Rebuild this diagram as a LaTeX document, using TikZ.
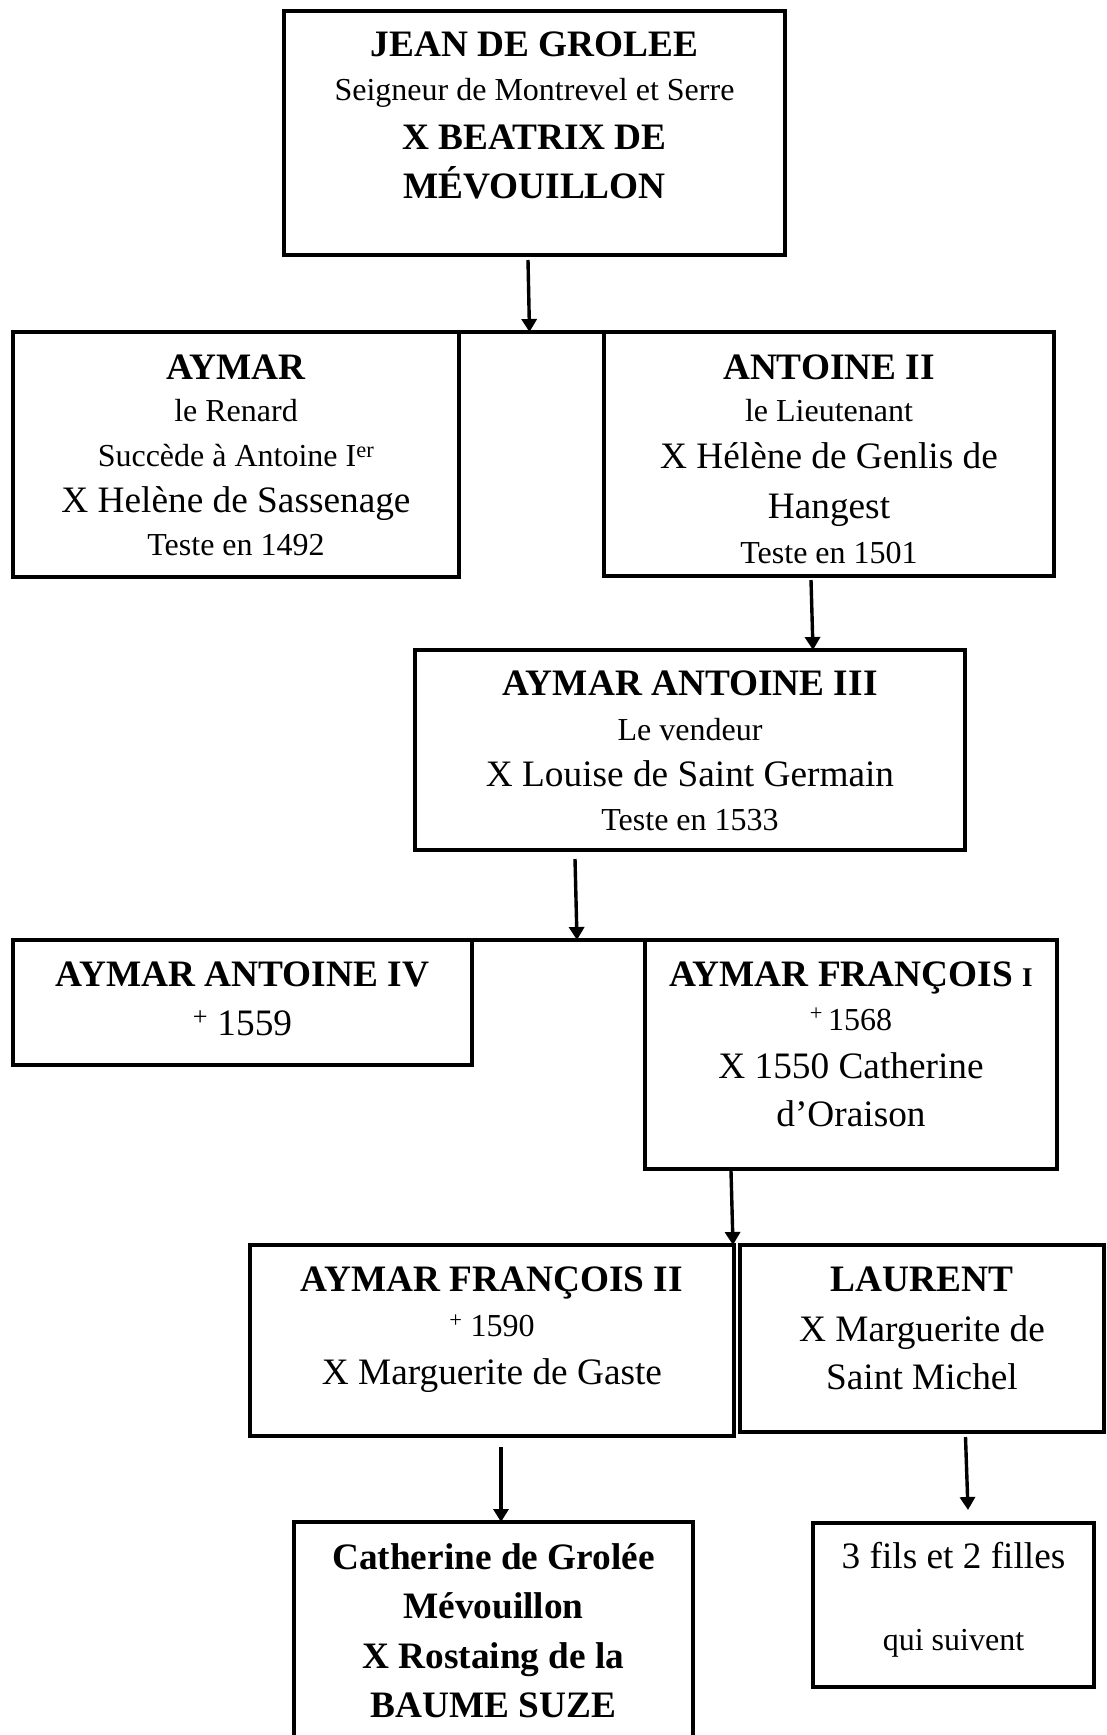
\documentclass[tikz,border=0pt]{standalone}
\usepackage{fontspec}
\setmainfont{Liberation Serif}
\usetikzlibrary{arrows.meta}

\tikzset{
  fambox/.style={draw, rectangle, line width=3.4pt, inner sep=0pt, outer sep=0pt},
  lien/.style={line width=3.4pt},
  fleche/.style={line width=3.4pt, -{Triangle[length=13pt,width=15pt]}},
  ln/.style={anchor=base, inner sep=0pt},
  nom/.style={ln, font=\fontsize{37.3}{44}\selectfont\bfseries},
  gros/.style={ln, font=\fontsize{37.3}{44}\selectfont},
  petit/.style={ln, font=\fontsize{32}{38}\selectfont},
}

\begin{document}
\begin{tikzpicture}[x=1pt, y=-1pt]
\useasboundingbox (0,0) rectangle (1107,1735);
\clip (0,0) rectangle (1107,1735);

% family boxes
\node[fambox, minimum width=501pt, minimum height=244pt] (jean)    at (534.5,133) {};
\node[fambox, minimum width=446pt, minimum height=245pt] (aymar)   at (236,454.5) {};
\node[fambox, minimum width=450pt, minimum height=244pt] (antoine) at (829,454) {};
\node[fambox, minimum width=550pt, minimum height=200pt] (aa3)     at (690,750) {};
\node[fambox, minimum width=459pt, minimum height=125pt] (aa4)     at (242.5,1002.5) {};
\node[fambox, minimum width=412pt, minimum height=229pt] (af1)     at (851,1054.5) {};
\node[fambox, minimum width=484pt, minimum height=191pt] (af2)     at (492,1340.5) {};
\node[fambox, minimum width=364pt, minimum height=187pt] (laurent) at (922,1338.5) {};
\node[fambox, minimum width=399pt, minimum height=238pt] (cath)    at (493.5,1641) {};
\node[fambox, minimum width=281pt, minimum height=164pt] (fils)    at (953.5,1605) {};

% texts
\node[nom]   (jean-1) at (534.5,56.7) {JEAN DE GROLEE};
\node[petit] (jean-2) at (534.5,100)  {Seigneur de Montrevel et Serre};
\node[nom]   (jean-3) at (534.5,149)  {X BEATRIX DE};
\node[nom]   (jean-4) at (534.5,198)  {MÉVOUILLON};

\node[nom]   (aymar-1) at (236,379)   {AYMAR};
\node[petit] (aymar-2) at (236,421.7) {le Renard};
\node[petit] (aymar-3) at (236,466.7) {Succède à Antoine I\textsuperscript{er}};
\node[gros]  (aymar-4) at (236,512.7) {X Helène de Sassenage};
\node[petit] (aymar-5) at (236,555)   {Teste en 1492};

\node[nom]   (antoine-1) at (829,379)   {ANTOINE II};
\node[petit] (antoine-2) at (829,421.7) {le Lieutenant};
\node[gros]  (antoine-3) at (829,468)   {X Hélène de Genlis de};
\node[gros]  (antoine-4) at (829,518)   {Hangest};
\node[petit] (antoine-5) at (829,563.5) {Teste en 1501};

\node[nom]   (aa3-1) at (690,695.7) {AYMAR ANTOINE III};
\node[petit] (aa3-2) at (690,740)   {Le vendeur};
\node[gros]  (aa3-3) at (690,786.7) {X Louise de Saint Germain};
\node[petit] (aa3-4) at (690,830)   {Teste en 1533};

\node[nom]   (aa4-1) at (242.5,986.7) {AYMAR ANTOINE IV};
\node[gros]  (aa4-2) at (242.5,1035)  {\textsuperscript{+} 1559};

\node[nom]   (af1-1) at (851,986.7)  {AYMAR FRANÇOIS {\fontsize{27}{30}\selectfont I}};
\node[petit] (af1-2) at (851,1030)   {\textsuperscript{+}\,1568};
\node[gros]  (af1-3) at (851,1078)   {X 1550 Catherine};
\node[gros]  (af1-4) at (851,1126.7) {d’Oraison};

\node[nom]   (af2-1) at (492,1291.7) {AYMAR FRANÇOIS II};
\node[petit] (af2-2) at (492,1336.7) {\textsuperscript{+} 1590};
\node[gros]  (af2-3) at (492,1384)   {X Marguerite de Gaste};

\node[nom]   (laurent-1) at (922,1291)  {LAURENT};
\node[gros]  (laurent-2) at (922,1341)  {X Marguerite de};
\node[gros]  (laurent-3) at (922,1389.5){Saint Michel};

\node[nom]   (cath-1) at (493.5,1569) {Catherine de Grolée};
\node[nom]   (cath-2) at (493.5,1618.5) {Mévouillon};
\node[nom]   (cath-3) at (493.5,1668) {X Rostaing de la};
\node[nom]   (cath-4) at (493.5,1717.5) {BAUME SUZE};

\node[gros]  (fils-1) at (953.5,1568) {3 fils et 2 filles};
\node[petit] (fils-2) at (953.5,1650) {qui suivent};

% sibling bars
\draw[lien] ([xshift=-42pt]aymar.north east) -- ([xshift=25pt]antoine.north west);
\draw[lien] (aa4.north east) -- (af1.north west);
\coordinate (bar1) at (529.5,332);
\coordinate (bar2) at (577,940);

% descent arrows
\draw[fleche] ([xshift=-6.5pt,yshift=-5pt]jean.south) -- (bar1);
\draw[fleche] ([xshift=-18pt,yshift=-4pt]antoine.south) -- ([xshift=123pt]aa3.north);
\draw[fleche] ([xshift=-115pt,yshift=-9pt]aa3.south) -- (bar2);
\draw[fleche] ([xshift=-120pt,yshift=-2pt]af1.south) -- ([xshift=-1pt]af2.north east);
\draw[fleche] ([xshift=9pt,yshift=-11pt]af2.south) -- ([xshift=7.5pt]cath.north);
\draw[fleche] ([xshift=43.5pt,yshift=-5pt]laurent.south) -- ([xshift=14.5pt,yshift=13pt]fils.north);
\end{tikzpicture}
\end{document}
